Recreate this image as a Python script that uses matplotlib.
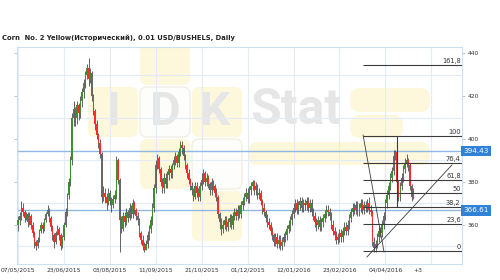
import matplotlib
matplotlib.use("Agg")
import matplotlib.pyplot as plt
import matplotlib.transforms as mtransforms
from matplotlib.patches import FancyBboxPatch

# daily closes / highs / lows (bar 0 = 07/05/2015)
closes = [362, 364, 368, 366, 363, 365, 361, 364, 360, 356,
          352, 350, 353, 357, 360, 358, 362, 365, 367, 363,
          359, 355, 352, 356, 358, 355, 350, 354, 360, 366,
          374, 380, 390, 410, 414, 410, 416, 412, 418, 422,
          426, 430, 433, 428, 431, 420, 413, 407, 402, 398,
          393, 373, 375, 373, 370, 375, 371, 369, 372, 374,
          390, 381, 362, 358, 364, 361, 366, 363, 368, 365,
          370, 367, 364, 362, 356, 353, 350, 348, 351, 355,
          358, 362, 368, 377, 388, 391, 386, 380, 377, 382,
          379, 383, 386, 384, 388, 390, 392, 389, 394, 397,
          396, 392, 388, 384, 381, 378, 376, 373, 378, 375,
          373, 378, 381, 384, 380, 382, 379, 376, 380, 378,
          375, 373, 365, 361, 358, 360, 362, 359, 361, 363,
          360, 364, 366, 364, 367, 365, 369, 371, 373, 375,
          372, 376, 378, 380, 376, 378, 374, 375, 371, 368,
          366, 363, 361, 360, 357, 355, 352, 354, 351, 353,
          350, 352, 354, 355, 358, 360, 362, 365, 368, 370,
          367, 369, 371, 368, 370, 369, 371, 368, 370, 366,
          364, 361, 360, 362, 359, 361, 363, 365, 367, 366,
          364, 360, 357, 355, 353, 354, 356, 354, 357, 359,
          357, 360, 363, 366, 368, 367, 369, 366, 368, 370,
          367, 369, 368, 370, 367, 366, 352, 349, 351, 354,
          357, 356, 360, 364, 370, 374, 378, 382, 385, 392,
          394, 380, 373, 378, 382, 386, 389, 390, 388, 378,
          373, 375]
highs = [364, 366, 371, 370, 367, 366, 366, 366, 365, 361,
         357, 353, 354, 358, 361, 361, 363, 366, 369, 368,
         364, 360, 356, 357, 360, 359, 356, 355, 361, 368,
         375, 382, 392, 412, 418, 415, 418, 417, 420, 424,
         428, 432, 435, 438, 433, 432, 421, 414, 409, 403,
         400, 394, 378, 377, 375, 377, 376, 373, 374, 376,
         392, 391, 382, 364, 366, 366, 368, 367, 370, 369,
         372, 371, 368, 366, 363, 357, 355, 352, 353, 357,
         360, 364, 370, 379, 390, 393, 392, 387, 382, 384,
         384, 385, 388, 388, 389, 392, 394, 393, 396, 399,
         399, 397, 393, 389, 386, 382, 380, 377, 380, 380,
         377, 380, 384, 386, 385, 384, 383, 380, 382, 381,
         379, 377, 374, 366, 363, 362, 364, 364, 363, 365,
         365, 366, 368, 368, 369, 369, 371, 373, 375, 377,
         377, 378, 380, 381, 381, 380, 379, 377, 376, 372,
         370, 367, 365, 363, 361, 359, 356, 356, 356, 355,
         355, 354, 356, 357, 360, 362, 364, 367, 370, 372,
         372, 371, 373, 373, 372, 372, 373, 373, 372, 372,
         368, 366, 363, 364, 364, 363, 365, 367, 369, 369,
         368, 366, 362, 359, 357, 356, 358, 358, 359, 361,
         361, 362, 365, 368, 370, 370, 371, 371, 370, 372,
         372, 371, 371, 372, 373, 369, 367, 354, 353, 356,
         359, 359, 362, 366, 372, 376, 380, 384, 387, 395,
         395, 395, 381, 380, 384, 388, 391, 393, 391, 389,
         379, 377]
lows = [357, 360, 362, 364, 361, 362, 359, 360, 358, 354,
        349, 348, 349, 352, 356, 356, 357, 361, 364, 361,
        357, 353, 349, 351, 355, 353, 348, 349, 353, 359,
        364, 372, 378, 388, 406, 406, 407, 409, 410, 415,
        419, 424, 428, 425, 426, 418, 411, 404, 400, 396,
        391, 370, 371, 370, 367, 369, 369, 366, 368, 370,
        372, 379, 347, 356, 357, 359, 360, 361, 362, 363,
        363, 365, 362, 360, 354, 351, 348, 347, 348, 349,
        353, 356, 360, 366, 375, 386, 384, 378, 375, 375,
        377, 377, 381, 382, 382, 386, 388, 387, 387, 392,
        393, 390, 386, 382, 379, 376, 374, 371, 372, 373,
        371, 371, 376, 379, 378, 378, 377, 374, 374, 376,
        373, 371, 363, 358, 355, 356, 358, 357, 357, 359,
        358, 358, 362, 362, 362, 363, 363, 367, 369, 371,
        370, 370, 374, 376, 374, 374, 372, 372, 369, 365,
        364, 361, 359, 358, 355, 353, 350, 350, 349, 349,
        348, 348, 350, 352, 353, 356, 357, 360, 363, 366,
        365, 365, 367, 366, 366, 367, 367, 366, 366, 364,
        362, 359, 357, 358, 357, 357, 359, 361, 363, 364,
        362, 358, 355, 353, 351, 351, 352, 352, 352, 355,
        355, 355, 358, 361, 364, 365, 365, 364, 364, 366,
        365, 365, 366, 366, 365, 364, 350, 347, 347, 349,
        352, 354, 354, 358, 362, 368, 372, 376, 380, 383,
        390, 378, 371, 371, 376, 380, 384, 387, 385, 376,
        371, 372]
first_open = 360
opens = [first_open] + closes[:-1]

date_labels = ["07/05/2015", "23/06/2015", "03/08/2015", "11/09/2015", "21/10/2015",
               "01/12/2015", "12/01/2016", "23/02/2016", "04/04/2016"]
bars_per_label = 28
price_ticks = [360, 380, 400, 420, 440]
price_grid = [350, 370, 390, 410, 430]
price_lines = [394.43, 366.61]

fib_low, fib_high = 347.7, 401.4
fib_ratios = [0, 23.6, 38.2, 50, 61.8, 76.4, 100, 161.8]
fib_labels = ["0", "23,6", "38,2", "50", "61,8", "76,4", "100", "161,8"]
fib_start = 210.4
fib_mid_bar = 231.1
fib_diag_x = [210.4, 223.2]
fib_diag_y = [401.9, 347.2]
trend_x = [212.8, 264.6]
trend_y = [344.9, 387.9]

W, H = 500, 280
fig = plt.figure(figsize=(W / 100, H / 100), dpi=100)
fig.patch.set_facecolor("white")
left_px, right_px, top_px, bot_px = 17, 462, 47, 264
rect = [left_px / W, 1 - bot_px / H, (right_px - left_px) / W, (bot_px - top_px) / H]

# watermark logo behind the chart
wm = fig.add_axes(rect, zorder=0)
wm.set_xlim(left_px, right_px)
wm.set_ylim(bot_px, top_px)
wm.axis("off")
yellow = "#fdf7dc"
tiles = [(140, 35, "y"), (88, 87, "y"), (140, 87, "w"), (192, 87, "y"),
         (140, 139, "y"), (192, 139, "w"), (192, 191, "y")]
for tx, ty, kind in tiles:
    fc = yellow if kind == "y" else "#fdfdfb"
    ec = "none" if kind == "y" else "#f2efe2"
    wm.add_patch(FancyBboxPatch((tx, ty), 50, 50, boxstyle="round,pad=0,rounding_size=7",
                                fc=fc, ec=ec, lw=1.0))
for bx, by, bw, bh in [(350, 88, 80, 24), (350, 115, 53, 23), (248, 142, 182, 23)]:
    wm.add_patch(FancyBboxPatch((bx, by), bw, bh, boxstyle="round,pad=0,rounding_size=10",
                                fc=yellow, ec="none"))
for letter, lx in [("I", 113), ("D", 165), ("K", 215)]:
    wm.text(lx, 112, letter, ha="center", va="center", fontsize=34, fontweight="bold",
            family="Roboto", color="#e6e6e6")
wm.text(250, 111, "Stat", ha="left", va="center", fontsize=36, fontweight="bold",
        family="Roboto", color="#e6e6e6")

ax = fig.add_axes(rect, zorder=1)
ax.set_facecolor("none")
n = len(closes)
xs = list(range(n))
ax.set_xlim(-0.6, (right_px - 18) / 1.64)
ax.set_ylim(341.6, 443.0)

grid_c = "#e3ecf6"
for g in range(0, 253, bars_per_label):
    ax.axvline(g, color=grid_c, lw=0.8, zorder=0)
for g in price_grid:
    ax.axhline(g, color=grid_c, lw=0.8, zorder=0)
for p in price_lines:
    ax.axhline(p, color="#8fb8e3", lw=1.0, zorder=1)

# candles
ax.vlines(xs, lows, highs, color="#4a4a4a", lw=0.6, zorder=2)
bottoms = [min(o, c) for o, c in zip(opens, closes)]
heights = [max(abs(c - o), 0.4) for o, c in zip(opens, closes)]
colors = ["#3f8f2f" if c >= o else "#ff2a2a" for o, c in zip(opens, closes)]
ax.bar(xs, heights, bottom=bottoms, width=0.75, color=colors, lw=0, zorder=3)

# fibonacci grid
xr = ax.get_xlim()[1]
fib_levels = [fib_low + r / 100 * (fib_high - fib_low) for r in fib_ratios]
ax.hlines(fib_levels, fib_start, xr, color="#3c3c3c", lw=0.8, zorder=4)
ax.plot(fib_diag_x, fib_diag_y, color="#3c3c3c", lw=0.6, zorder=4)
ax.plot(trend_x, trend_y, color="#3c3c3c", lw=0.6, zorder=4)
ax.vlines(fib_mid_bar, fib_levels[2], fib_levels[6], color="#3c3c3c", lw=0.8, zorder=4)
blend = mtransforms.blended_transform_factory(ax.transAxes, ax.transData)
for lv, lab in zip(fib_levels, fib_labels):
    ax.text(0.997, lv + 0.6, lab, transform=blend, ha="right", va="bottom",
            fontsize=4.8, color="#333333", zorder=5)

for p in price_lines:
    ax.text(1.003, p, f"{p:.2f}", transform=blend, ha="left", va="center", fontsize=5.2,
            color="white", zorder=6, clip_on=False,
            bbox=dict(boxstyle="square,pad=0.3", fc="#2f82d6", ec="none"))

ax.set_xticks([i * bars_per_label for i in range(len(date_labels))])
ax.set_xticklabels(date_labels)
ax.text(243.9, 341.6 - 2.9, "+3", ha="center", va="center", fontsize=4.3, color="#333333")
ax.set_yticks(price_ticks)
ax.yaxis.tick_right()
ax.tick_params(axis="y", left=True, right=True, length=2, width=0.6, color="#9fbfe0",
               labelsize=4.3, labelcolor="#333333", pad=2)
ax.tick_params(axis="x", length=0, labelsize=4.3, labelcolor="#333333", pad=2.5)
for s in ax.spines.values():
    s.set_color("#cfe0f0")
    s.set_linewidth(0.8)

fig.text(2 / W, 1 - 38 / H, "Corn  No. 2 Yellow(Исторический), 0.01 USD/BUSHELS, Daily",
         ha="left", va="center", fontsize=4.9, fontweight="bold", color="#222222")

fig.savefig("out.png", dpi=100)
